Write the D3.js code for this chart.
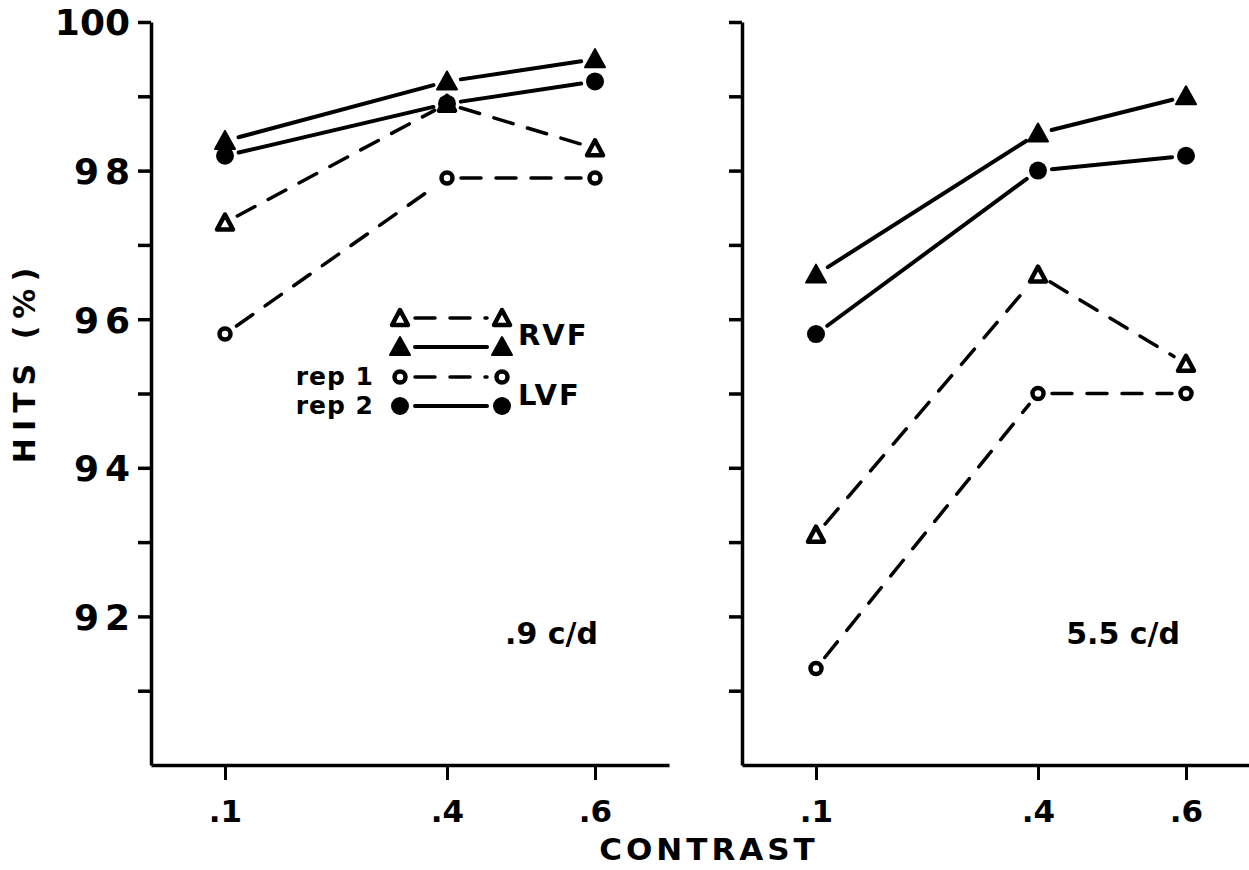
<!DOCTYPE html>
<html lang="en">
<head>
  <meta charset="UTF-8" />
  <title>Hits vs Contrast</title>
  <style>
    body { margin: 0; background: #fff; }
    text { font-family: "DejaVu Sans", sans-serif; font-weight: bold; fill: #000; }
  </style>
  <script src="https://d3js.org/d3.v7.min.js"></script>
</head>
<body>
  <script>
    // contrast levels and hit rates (%)
    const contrasts = [0.1, 0.4, 0.6];
    const panels = [".9 c/d", "5.5 c/d"];

    const lowRVFrep1 = [97.3, 98.9, 98.3];   // open triangle, dashed
    const lowRVFrep2 = [98.4, 99.2, 99.5];   // filled triangle, solid
    const lowLVFrep1 = [95.8, 97.9, 97.9];   // open circle, dashed
    const lowLVFrep2 = [98.2, 98.9, 99.2];   // filled circle, solid

    const highRVFrep1 = [93.1, 96.6, 95.4];
    const highRVFrep2 = [96.6, 98.5, 99.0];
    const highLVFrep1 = [91.3, 95.0, 95.0];
    const highLVFrep2 = [95.8, 98.0, 98.2];

    const yTicks = [91, 92, 93, 94, 95, 96, 97, 98, 99, 100];
    const yLabels = [92, 94, 96, 98, 100];
    const xLabels = [".1", ".4", ".6"];

    const series = [
      { name: "RVF rep1", marker: "openTri", dashed: true },
      { name: "RVF rep2", marker: "fillTri", dashed: false },
      { name: "LVF rep1", marker: "openCirc", dashed: true },
      { name: "LVF rep2", marker: "fillCirc", dashed: false }
    ];
    const panelData = [
      [lowRVFrep1, lowRVFrep2, lowLVFrep1, lowLVFrep2],
      [highRVFrep1, highRVFrep2, highLVFrep1, highLVFrep2]
    ];

    const W = 1249, H = 870;
    const svg = d3.select("body").append("svg").attr("width", W).attr("height", H);

    const y = d3.scaleLinear().domain([90, 100]).range([765, 22]);
    const xs = [
      d3.scaleLinear().domain([0, 0.7]).range([151, 669]),
      d3.scaleLinear().domain([0, 0.7]).range([742, 1260])
    ];

    function drawMarker(g, type, cx, cy) {
      if (type === "fillTri") {
        g.append("path").attr("d", `M${cx},${cy - 10}L${cx + 10},${cy + 8}L${cx - 10},${cy + 8}Z`)
          .attr("fill", "#000").attr("stroke", "#000").attr("stroke-width", 2).attr("stroke-linejoin", "round");
      } else if (type === "openTri") {
        g.append("path").attr("d", `M${cx},${cy - 8}L${cx + 8},${cy + 7}L${cx - 8},${cy + 7}Z`)
          .attr("fill", "#fff").attr("stroke", "#000").attr("stroke-width", 4.5).attr("stroke-linejoin", "round");
      } else if (type === "fillCirc") {
        g.append("circle").attr("cx", cx).attr("cy", cy).attr("r", 9).attr("fill", "#000");
      } else {
        g.append("circle").attr("cx", cx).attr("cy", cy).attr("r", 5.5).attr("fill", "#fff")
          .attr("stroke", "#000").attr("stroke-width", 4.5);
      }
    }

    // segment between two points, pulled back from the markers
    function segment(g, x1, y1, x2, y2, dashed, gap) {
      const dx = x2 - x1, dy = y2 - y1, len = Math.hypot(dx, dy);
      const ux = dx / len, uy = dy / len;
      g.append("line")
        .attr("x1", x1 + ux * gap).attr("y1", y1 + uy * gap)
        .attr("x2", x2 - ux * gap).attr("y2", y2 - uy * gap)
        .attr("stroke", "#000")
        .attr("stroke-width", dashed ? 3.5 : 4)
        .attr("stroke-linecap", "round")
        .attr("stroke-dasharray", dashed ? "20,15" : null);
    }

    panels.forEach((label, p) => {
      const x = xs[p];
      const g = svg.append("g");

      // y axis
      const yAxis = d3.axisLeft(y).tickValues(yTicks).tickSize(13).tickSizeOuter(0)
        .tickFormat(d => (p === 0 && yLabels.includes(d)) ? d : "");
      const ya = g.append("g").attr("transform", `translate(${x(0)},0)`).call(yAxis);
      ya.select(".domain").attr("stroke-width", 3.5);
      ya.selectAll(".tick line").attr("stroke-width", 3.5);
      ya.selectAll(".tick text").attr("font-size", 36)
        .attr("letter-spacing", d => d === 100 ? 0 : 6)
        .attr("x", d => d === 100 ? -21 : -15).attr("dy", "0.36em");

      // x axis
      const xAxis = d3.axisBottom(x).tickValues(contrasts).tickSize(15).tickSizeOuter(0)
        .tickFormat((d, i) => xLabels[i]);
      const xa = g.append("g").attr("transform", `translate(0,${y(90)})`).call(xAxis);
      xa.select(".domain").attr("stroke-width", 3.5);
      xa.selectAll(".tick line").attr("stroke-width", 3);
      xa.selectAll(".tick text").attr("font-size", 31).attr("y", 57).attr("dy", 0);

      // series
      panelData[p].forEach((vals, s) => {
        const pts = contrasts.map((c, i) => [x(c), y(vals[i])]);
        for (let i = 0; i < pts.length - 1; i++) {
          segment(g, pts[i][0], pts[i][1], pts[i + 1][0], pts[i + 1][1], series[s].dashed, 14);
        }
      });
      panelData[p].forEach((vals, s) => {
        contrasts.forEach((c, i) => drawMarker(g, series[s].marker, x(c), y(vals[i])));
      });

      g.append("text").attr("x", p === 0 ? 598 : 1180).attr("y", 644)
        .attr("text-anchor", "end").attr("font-size", 30).text(label);
    });

    // legend
    const legendRows = [
      { marker: "openTri", dashed: true, row: 318 },
      { marker: "fillTri", dashed: false, row: 347 },
      { marker: "openCirc", dashed: true, row: 377, rep: "rep 1" },
      { marker: "fillCirc", dashed: false, row: 406, rep: "rep 2" }
    ];
    const lg = svg.append("g");
    legendRows.forEach(r => {
      segment(lg, 400, r.row, 502, r.row, r.dashed, 15);
      drawMarker(lg, r.marker, 400, r.row);
      drawMarker(lg, r.marker, 502, r.row);
      if (r.rep) {
        lg.append("text").attr("x", 374).attr("y", r.row + 8).attr("text-anchor", "end")
          .attr("font-size", 25).attr("letter-spacing", 1).text(r.rep);
      }
    });
    lg.append("text").attr("x", 518).attr("y", 345).attr("font-size", 29).attr("letter-spacing", 2).text("RVF");
    lg.append("text").attr("x", 518).attr("y", 405).attr("font-size", 29).attr("letter-spacing", 2).text("LVF");

    // axis titles
    svg.append("text").attr("x", 709).attr("y", 860).attr("text-anchor", "middle")
      .attr("font-size", 31).attr("letter-spacing", 4).text("CONTRAST");
    svg.append("text").attr("transform", "translate(35,362) rotate(-90)").attr("text-anchor", "middle")
      .attr("font-size", 30).attr("letter-spacing", 7).text("HITS (%)");
  </script>
</body>
</html>
